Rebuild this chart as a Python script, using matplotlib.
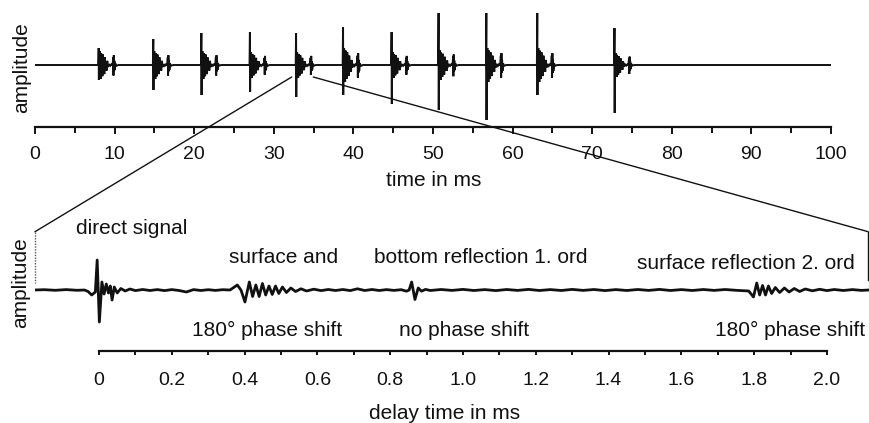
import matplotlib
matplotlib.use('Agg')
import matplotlib.pyplot as plt
from matplotlib.patches import ConnectionPatch
from matplotlib.ticker import MultipleLocator, FuncFormatter

plt.rcParams['font.family'] = ['Liberation Sans', 'DejaVu Sans']

W, H = 869, 423
INK = '#111111'

# ---------------- top panel data (time in ms, amplitude in arbitrary units) -------------
burst_times = [8.0, 14.86, 20.9, 27.0, 32.8, 38.7, 44.8, 50.7, 56.7, 63.1, 72.8]
spike_up = [17, 26, 32, 33, 32, 38, 33, 52, 52, 52, 37]
spike_down = [15, 25, 30, 27, 32, 30, 39, 45, 55, 30, 48]
cluster_amp = [14, 14, 14, 13, 13, 17, 13, 15, 17, 17, 12]
# burst shape: offset (ms) after the main spike, relative height
burst_offsets = [-0.3, -0.05, 0.05, 0.09, 0.13, 0.17, 0.21, 0.26, 0.31, 0.36, 0.41,
                 0.47, 0.53, 0.59, 0.65, 0.71, 0.78, 0.85, 0.92, 1.0, 1.08, 1.16,
                 1.3, 1.45, 1.6, 1.75, 1.82, 1.86, 1.90, 1.94, 1.98, 2.03, 2.1, 2.25, 2.5]
burst_shape = [0, 0, 0.7, -0.9, 1.0, -0.6, 0.5, -1.0, 0.85, -0.5, 0.35,
               -0.8, 0.75, -0.4, 0.3, -0.65, 0.55, -0.3, 0.2, -0.4, 0.3, -0.15,
               0.06, -0.06, 0.05, -0.03, 0.55, -0.75, 0.7, -0.45, 0.3, -0.35, 0.1, -0.05, 0]
top_range = [0, 100]
top_major_ticks = [0, 10, 20, 30, 40, 50, 60, 70, 80, 90, 100]
zoom_window = [32.25, 34.96]      # part of the top trace shown below
zoom_level = -12

# ---------------- bottom panel data (delay time in ms, amplitude) ----------------------
pre_delay = [-0.176, -0.15, -0.12, -0.09, -0.06, -0.04, -0.03, -0.02, -0.01]
pre_amp = [0, 0.3, -0.3, 0.4, -0.3, 0, -1.5, -5, -2]
direct_delay = [-0.005, 0.001, 0.008, 0.014, 0.020, 0.026, 0.031, 0.036, 0.042, 0.050,
                0.060, 0.072, 0.085]
direct_amp = [30, -32, 8, -4, 6, -3, 4, -10, 3, -3, 1.5, -1, 1]
quiet1_delay = [0.10, 0.12, 0.14, 0.16, 0.18, 0.20, 0.22, 0.24, 0.26, 0.28, 0.30, 0.32,
                0.34, 0.36]
quiet1_amp = [-0.6, 0.5, -0.5, 0.4, -0.6, 0.4, -0.5, -2.0, 0.4, -0.5, 0.3, -0.4, 0.3, 0]
surface_delay = [0.372, 0.38, 0.390, 0.401, 0.413, 0.422, 0.431, 0.440, 0.449, 0.458,
                 0.467, 0.476, 0.485, 0.494, 0.504, 0.515, 0.527, 0.54, 0.555, 0.57, 0.59]
surface_amp = [3, 5, 0, -12, 8, -6.5, 5, -6.5, 6.5, -5, 4, -4.5, 4, -3.5, 3, -2.5, 2,
               -1.5, 1.2, -1, 0.8]
quiet2_delay = [0.61, 0.63, 0.65, 0.67, 0.69, 0.71, 0.73, 0.75, 0.77, 0.79, 0.81, 0.83,
                0.845]
quiet2_amp = [-0.6, 0.5, -0.5, 0.5, -0.6, 1.2, -0.5, 0.5, -0.5, 0.4, -0.4, 0.3, -1.2]
bottom_delay = [0.852, 0.859, 0.868, 0.877, 0.886, 0.897, 0.91]
bottom_amp = [0, 8, -9.5, 2, -1.2, 0.6, -0.5]
quiet3_delay = [0.94, 0.97, 1.00, 1.03, 1.06, 1.09, 1.12, 1.15, 1.18, 1.21, 1.24, 1.27,
                1.30, 1.33, 1.36, 1.39, 1.42, 1.45, 1.48, 1.51, 1.54, 1.57, 1.60, 1.63,
                1.66, 1.69, 1.72, 1.75]
quiet3_amp = [0.5, -0.4, 0.6, -0.5, 0.4, -0.6, 0.5, -0.4, 0.6, -0.5, 0.4, -0.5, 0.6,
              -0.4, 0.5, -0.6, 0.4, -0.5, 0.5, -0.4, 0.6, -0.5, 0.4, -0.5, 0.5, -0.4,
              0.5, -0.3]
second_delay = [1.785, 1.798, 1.807, 1.815, 1.823, 1.831, 1.839, 1.848, 1.858, 1.87,
                1.883, 1.896, 1.91, 1.925, 1.94, 1.96, 1.98, 2.0, 2.02, 2.045, 2.07,
                2.095, 2.1154]
second_amp = [-1, -7, 7, -5, 4.5, -5, 4, -3.5, 2.5, -2.5, 2, -2, 1.5, -1.5, 1, -0.8,
              0.7, -0.6, 0.5, -0.5, 0.4, -0.4, 0]
bottom_range = [-0.1758, 2.1154]
bottom_axis_span = [0.0, 2.0]

labels_text = ['direct signal', 'surface and', 'bottom reflection 1. ord',
               'surface reflection 2. ord', '180° phase shift', 'no phase shift',
               '180° phase shift']
labels_x = [0.091, 0.508, 1.049, 1.777, 0.4615, 1.003, 1.898]
labels_y = [62, 33, 33, 27, -40, -40, -40]

# ---------------- build top trace -------------------------------------------------------
top_t = [top_range[0]]
top_a = [0.0]
for t0, up, dn, ca in zip(burst_times, spike_up, spike_down, cluster_amp):
    for off, rel in zip(burst_offsets, burst_shape):
        if off < 0:
            top_t.append(t0 + off)
            top_a.append(ca * rel)
    top_t += [t0, t0 + 0.025]
    top_a += [up, -dn]
    for off, rel in zip(burst_offsets, burst_shape):
        if off > 0:
            top_t.append(t0 + off)
            top_a.append(ca * rel)
top_t.append(top_range[1])
top_a.append(0.0)

bot_t = (pre_delay + direct_delay + quiet1_delay + surface_delay + quiet2_delay +
         bottom_delay + quiet3_delay + second_delay)
bot_a = (pre_amp + direct_amp + quiet1_amp + surface_amp + quiet2_amp + bottom_amp +
         quiet3_amp + second_amp)

# ---------------- figure ----------------------------------------------------------------
fig = plt.figure(figsize=(W / 100, H / 100), dpi=100)
fig.patch.set_facecolor('white')


def px_box(x0, y0, x1, y1):
    return [x0 / W, (H - y1) / H, (x1 - x0) / W, (y1 - y0) / H]


ax1 = fig.add_axes(px_box(35, 8, 831, 127))
ax1.plot(top_t, top_a, color=INK, lw=1.4, solid_joinstyle='miter')
ax1.set_xlim(*top_range)
ax1.set_ylim(-62, 57)
for s in ['top', 'right', 'left']:
    ax1.spines[s].set_visible(False)
ax1.spines['bottom'].set_linewidth(1.6)
ax1.spines['bottom'].set_color(INK)
ax1.set_yticks([])
ax1.set_xticks(top_major_ticks)
ax1.xaxis.set_minor_locator(MultipleLocator(5))
ax1.tick_params(axis='x', which='major', direction='out', length=5, width=1.4,
                colors=INK, labelsize=14, pad=9)
ax1.tick_params(axis='x', which='minor', direction='out', length=4.5, width=1.4,
                colors=INK)
ax1.patch.set_alpha(0)

ax2 = fig.add_axes(px_box(35, 225, 869, 351))
ax2.plot(bot_t, bot_a, color=INK, lw=2.0, solid_joinstyle='round')
ax2.set_xlim(*bottom_range)
ax2.set_ylim(-61, 65)
for s in ['top', 'right', 'left']:
    ax2.spines[s].set_visible(False)
ax2.spines['bottom'].set_bounds(*bottom_axis_span)
ax2.spines['bottom'].set_linewidth(1.6)
ax2.spines['bottom'].set_color(INK)
ax2.set_yticks([])
ax2.set_xticks([v / 10 for v in range(0, 21, 2)])
ax2.xaxis.set_major_formatter(FuncFormatter(lambda v, p: '0' if abs(v) < 1e-9 else f'{v:.1f}'))
ax2.set_xticks([v / 10 for v in range(1, 21, 2)], minor=True)
ax2.tick_params(axis='x', which='major', direction='out', length=3, width=1.4,
                colors=INK, labelsize=14, pad=12)
ax2.tick_params(axis='x', which='minor', direction='out', length=3, width=1.4,
                colors=INK)
ax2.patch.set_alpha(0)

for txt, x, y in zip(labels_text, labels_x, labels_y):
    ax2.text(x, y, txt, ha='center', va='center', fontsize=15, color=INK)

# zoom connection lines
corner_y = 58.3
con1 = ConnectionPatch(xyA=(zoom_window[0], zoom_level), coordsA=ax1.transData,
                       xyB=(bottom_range[0], corner_y), coordsB=ax2.transData,
                       color=INK, lw=1.0)
con2 = ConnectionPatch(xyA=(zoom_window[1], zoom_level), coordsA=ax1.transData,
                       xyB=(2.113, corner_y), coordsB=ax2.transData,
                       color=INK, lw=1.0)
fig.add_artist(con1)
fig.add_artist(con2)
ax2.plot([bottom_range[0] + 0.001] * 2, [corner_y, 7], color='#555555', lw=1.0,
         ls=(0, (1, 1)), clip_on=False)
ax2.plot([2.113] * 2, [corner_y, 10], color=INK, lw=1.0, clip_on=False)

fig.text(434 / W, 1 - 180 / H, 'time in ms', ha='center', va='center', fontsize=15,
         color=INK)
fig.text(445 / W, 1 - 413 / H, 'delay time in ms', ha='center', va='center',
         fontsize=15, color=INK)
fig.text(22 / W, 1 - 68 / H, 'amplitude', ha='center', va='center', rotation=90,
         fontsize=15, color=INK)
fig.text(21 / W, 1 - 283 / H, 'amplitude', ha='center', va='center', rotation=90,
         fontsize=15, color=INK)

fig.savefig('out.png', dpi=100, facecolor='white')
